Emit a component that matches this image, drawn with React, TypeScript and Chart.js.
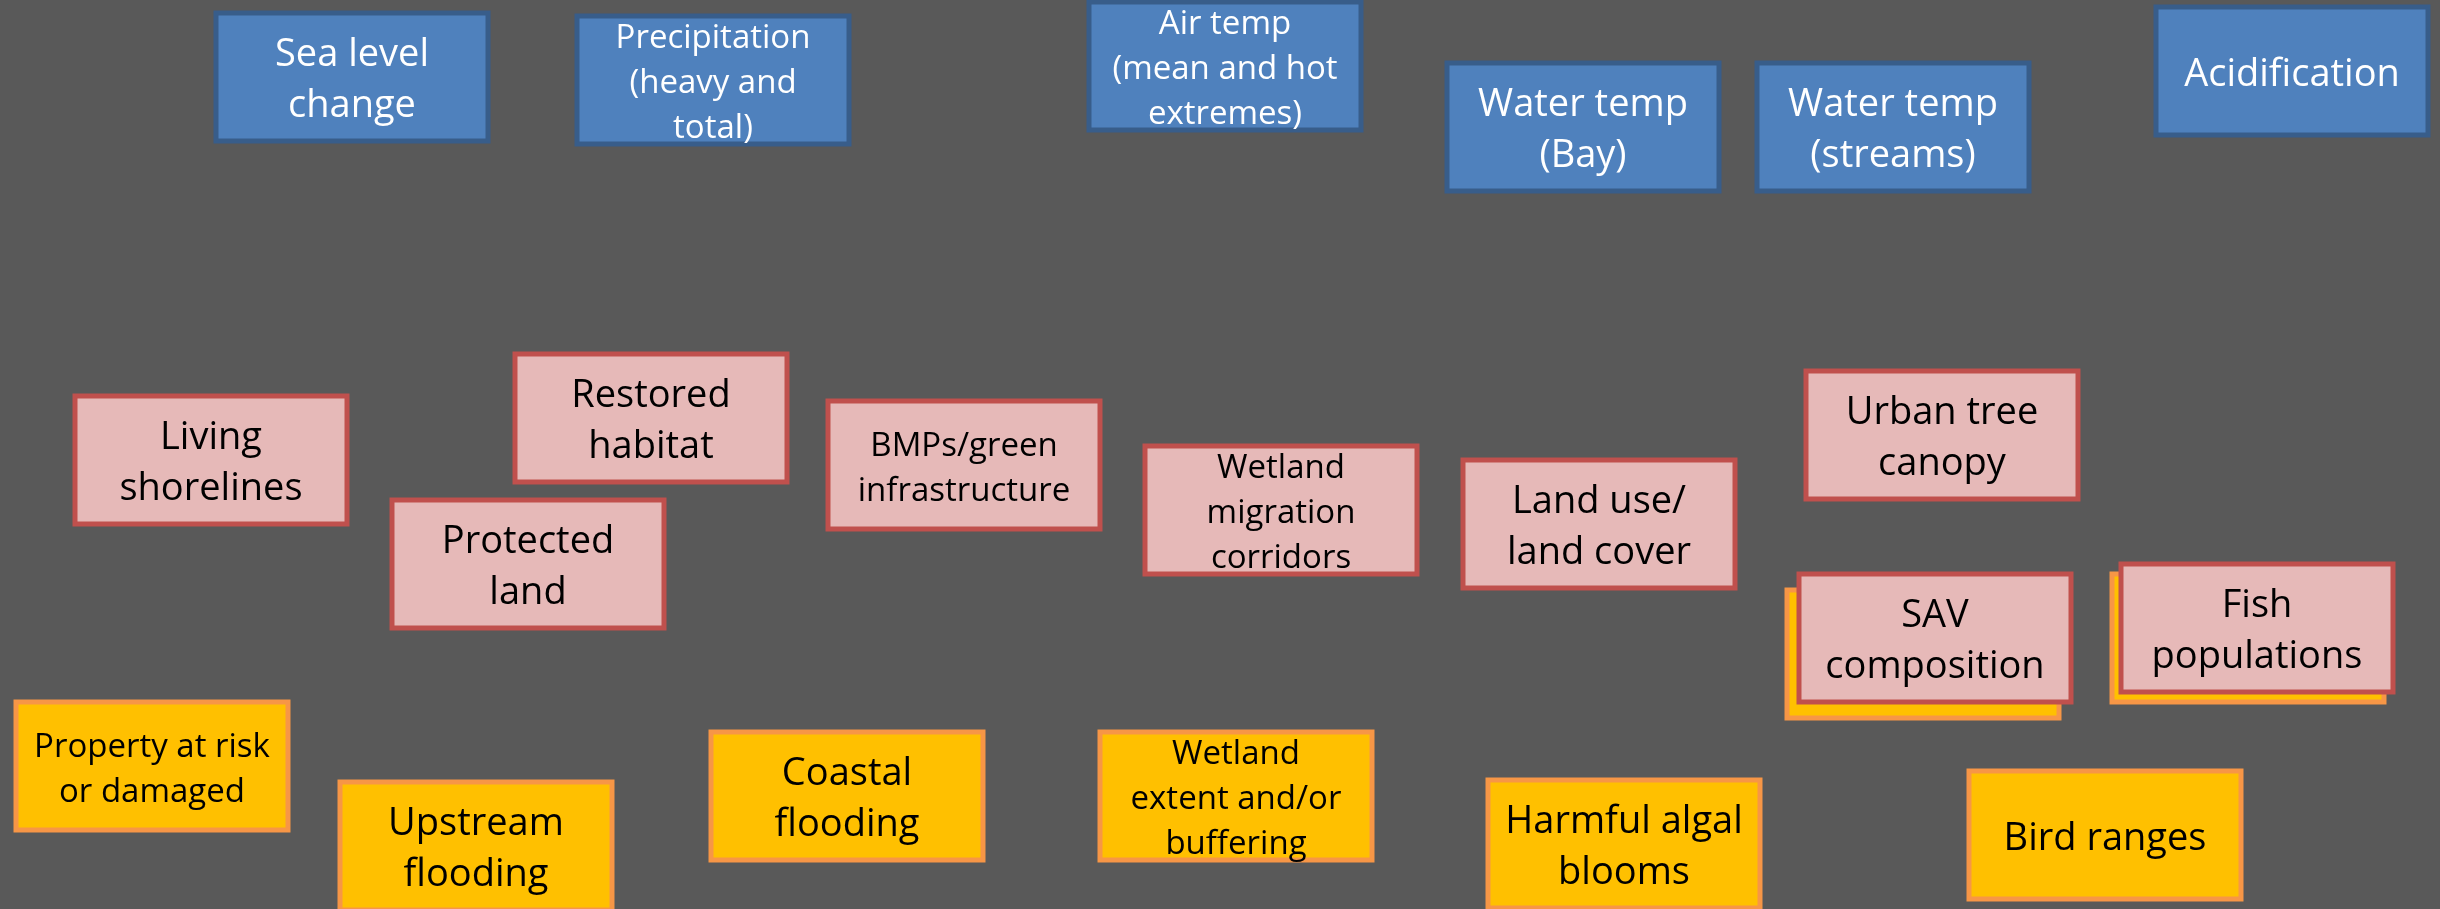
import React, { useEffect, useRef } from "react";
import { Chart, registerables } from "chart.js";

Chart.register(...registerables);

// Box centres are the data values (chart units, same span as the picture)
const driverLabels = ["Sea level\nchange", "Precipitation\n(heavy and\ntotal)", "Air temp\n(mean and hot\nextremes)", "Water temp\n(Bay)", "Water temp\n(streams)", "Acidification"];
const driverX = [352, 713, 1225, 1583, 1893, 2292];
const driverY = [77, 80, 66, 127, 127, 71];

const actionLabels = ["Living\nshorelines", "Restored\nhabitat", "Protected\nland", "BMPs/green\ninfrastructure", "Wetland\nmigration\ncorridors", "Land use/\nland cover", "Urban tree\ncanopy", "SAV\ncomposition", "Fish\npopulations"];
const actionX = [211, 651, 528, 964, 1281, 1599, 1942, 1935, 2257];
const actionY = [460, 418, 564, 465, 510, 524, 435, 638, 628];

const outcomeLabels = ["", "", "Property at risk\nor damaged", "Upstream\nflooding", "Coastal\nflooding", "Wetland\nextent and/or\nbuffering", "Harmful algal\nblooms", "Bird ranges"];
const outcomeX = [1923, 2248, 152, 476, 847, 1236, 1624, 2105];
const outcomeY = [654, 638, 766, 846, 796, 796, 844, 835];

// labels set in the smaller type size
const smallTextLabels = [
  "Precipitation\n(heavy and\ntotal)",
  "Air temp\n(mean and hot\nextremes)",
  "BMPs/green\ninfrastructure",
  "Wetland\nmigration\ncorridors",
  "Property at risk\nor damaged",
  "Wetland\nextent and/or\nbuffering",
];

const BOX_W = 277;
const BOX_H = 133;

type Style = { fill: string; border: string; text: string };
const styles: Record<string, Style> = {
  outcomes: { fill: "#FFC000", border: "#F79646", text: "#000000" },
  actions: { fill: "#E6B9B8", border: "#C0504D", text: "#000000" },
  drivers: { fill: "#4F81BD", border: "#385D8A", text: "#FFFFFF" },
};

const boxPlugin = {
  id: "boxes",
  afterDatasetsDraw(chart: any) {
    const ctx = chart.ctx as CanvasRenderingContext2D;
    const xs = chart.scales.x;
    const ys = chart.scales.y;
    chart.data.datasets.forEach((ds: any, di: number) => {
      const st = styles[ds.key];
      const meta = chart.getDatasetMeta(di);
      meta.data.forEach((el: any, i: number) => {
        const raw = ds.data[i];
        const left = xs.getPixelForValue(raw.x - BOX_W / 2);
        const right = xs.getPixelForValue(raw.x + BOX_W / 2);
        const top = ys.getPixelForValue(raw.y - BOX_H / 2);
        const bottom = ys.getPixelForValue(raw.y + BOX_H / 2);
        const x0 = Math.min(left, right);
        const y0 = Math.min(top, bottom);
        const w = Math.abs(right - left);
        const h = Math.abs(bottom - top);
        const bw = 5;
        ctx.save();
        ctx.fillStyle = st.border;
        ctx.fillRect(x0, y0, w, h);
        ctx.fillStyle = st.fill;
        ctx.fillRect(x0 + bw, y0 + bw, w - 2 * bw, h - 2 * bw);
        const label: string = ds.labels[i];
        if (label) {
          const lines = label.split("\n");
          const small = smallTextLabels.includes(label);
          const fs = small ? 33 : 38;
          const lh = small ? 45 : 51;
          ctx.font = `${fs}px "Open Sans", sans-serif`;
          ctx.fillStyle = st.text;
          ctx.textAlign = "center";
          ctx.textBaseline = "middle";
          const cx = el.x;
          const cy = el.y + 4;
          lines.forEach((ln, k) => {
            ctx.fillText(ln, cx, cy + (k - (lines.length - 1) / 2) * lh);
          });
        }
        ctx.restore();
      });
    });
  },
};

const bgPlugin = {
  id: "bg",
  beforeDraw(chart: any) {
    const ctx = chart.ctx;
    ctx.save();
    ctx.fillStyle = "#595959";
    ctx.fillRect(0, 0, chart.width, chart.height);
    ctx.restore();
  },
};

function mk(key: string, labels: string[], xs: number[], ys: number[]) {
  return {
    key,
    labels,
    label: key,
    data: xs.map((x, i) => ({ x, y: ys[i] })),
    pointRadius: 0,
    pointHoverRadius: 0,
  };
}

export default function App() {
  const ref = useRef<HTMLCanvasElement>(null);
  useEffect(() => {
    document.body.style.margin = "0";
    document.body.style.background = "#595959";
    const chart = new Chart(ref.current!, {
      type: "scatter",
      data: {
        datasets: [
          mk("outcomes", outcomeLabels, outcomeX, outcomeY),
          mk("actions", actionLabels, actionX, actionY),
          mk("drivers", driverLabels, driverX, driverY),
        ] as any,
      },
      options: {
        animation: false,
        responsive: false,
        maintainAspectRatio: false,
        layout: { padding: 0 },
        events: [],
        plugins: { legend: { display: false }, tooltip: { enabled: false } },
        scales: {
          x: { type: "linear", min: 0, max: 2440, display: false },
          y: { type: "linear", min: 0, max: 909, reverse: true, display: false },
        },
      },
      plugins: [bgPlugin, boxPlugin],
    });
    return () => chart.destroy();
  }, []);
  return (
    <div style={{ width: 2440, height: 909 }}>
      <canvas ref={ref} width={2440} height={909} style={{ display: "block" }} />
    </div>
  );
}
